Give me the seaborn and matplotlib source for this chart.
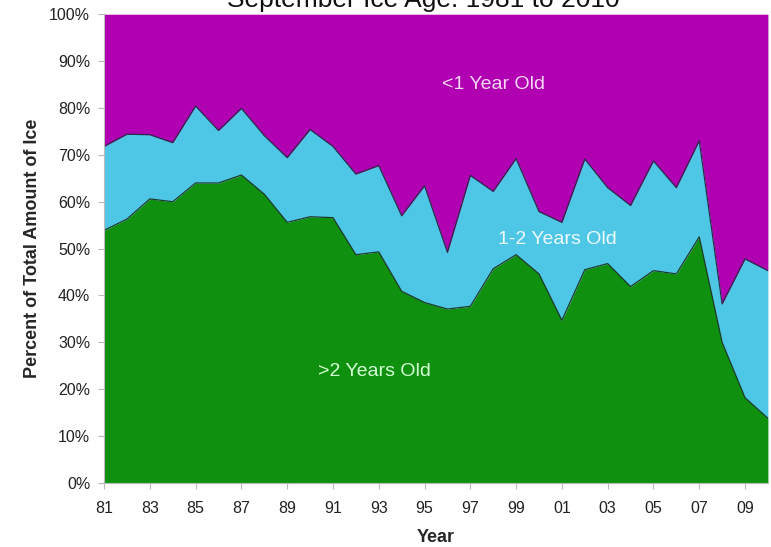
import numpy as np
import pandas as pd
import matplotlib
matplotlib.use("Agg")
import matplotlib.pyplot as plt
import seaborn as sns

# September sea ice age fractions (%)
years = list(range(1981, 2011))
older_than_2 = [53.9, 56.3, 60.6, 60.0, 64.0, 64.0, 65.7, 61.6, 55.6, 56.8,
                56.6, 48.7, 49.3, 40.9, 38.5, 37.1, 37.7, 45.7, 48.7, 44.6,
                34.7, 45.5, 46.8, 41.9, 45.3, 44.6, 52.5, 30.0, 18.2, 13.8]
older_than_1 = [71.8, 74.4, 74.3, 72.6, 80.4, 75.2, 79.9, 74.1, 69.4, 75.4,
                71.8, 65.9, 67.7, 57.0, 63.4, 49.2, 65.6, 62.2, 69.2, 57.9,
                55.6, 69.1, 63.0, 59.2, 68.7, 63.0, 73.0, 38.2, 47.8, 45.3]

df = pd.DataFrame({"year": years, "gt2": older_than_2, "gt1": older_than_1})
df["one_two"] = df["gt1"] - df["gt2"]
df["lt1"] = 100 - df["gt1"]

sns.set_theme(style="white")
plt.rcParams["font.family"] = ["Liberation Sans", "DejaVu Sans"]
narrow = ["Liberation Sans Narrow", "Liberation Sans", "DejaVu Sans"]

fig = plt.figure(figsize=(7.71, 5.47), dpi=100)
ax = fig.add_axes([0.135, 0.117, 0.861, 0.857])

ax.stackplot(df["year"], df["gt2"], df["one_two"], df["lt1"],
             colors=["#0f900f", "#4ec6e6", "#b000b2"], linewidth=0)
sns.lineplot(x=df["year"], y=df["gt2"], ax=ax, color="#1a3a2a", linewidth=0.9)
sns.lineplot(x=df["year"], y=df["gt1"], ax=ax, color="#2a2a4a", linewidth=0.9)

ax.set_xlim(1981, 2010)
ax.set_ylim(0, 100)
ax.set_xticks(years[::2])
ax.set_xticklabels([f"{y % 100:02d}" for y in years[::2]], family=narrow, fontsize=11.5, color="#222222")
ax.set_yticks(range(0, 101, 10))
ax.set_yticklabels([f"{v}%" for v in range(0, 101, 10)], family=narrow, fontsize=11.5, color="#222222")
ax.tick_params(axis="x", length=4, width=0.8, color="#bbbbbb", pad=9, bottom=True)
ax.tick_params(axis="y", length=4, width=0.8, color="#bbbbbb", pad=6, left=True)

for side in ["top", "right"]:
    ax.spines[side].set_visible(False)
for side in ["left", "bottom"]:
    ax.spines[side].set_color("#bbbbbb")
    ax.spines[side].set_linewidth(0.8)

ax.set_xlabel("Year", fontsize=13, fontweight="bold", labelpad=9)
ax.set_ylabel("Percent of Total Amount of Ice", fontsize=13, fontweight="bold", labelpad=6)

ax.text(1998.0, 85, "<1 Year Old", color="#f6d8f6", fontsize=14, ha="center", va="center")
ax.text(2000.8, 52, "1-2 Years Old", color="#eefaff", fontsize=14, ha="center", va="center")
ax.text(1992.8, 23.7, ">2 Years Old", color="#d6ffd6", fontsize=14, ha="center", va="center")

# title sits partly above the canvas, as in the source image
fig.text(0.549, 0.988, "September Ice Age: 1981 to 2010", fontsize=19, ha="center", va="baseline", color="#111111")

fig.savefig("out.png", dpi=100)
